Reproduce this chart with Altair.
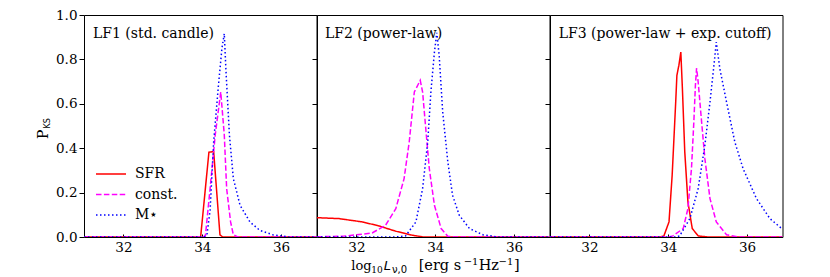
import altair as alt
import pandas as pd

X_MIN, X_MAX = 31.0, 36.9
SERIES = ["SFR", "const.", "M⋆"]
COLORS = ["#ff0000", "#ff00ff", "#0000ff"]
DASHES = [[1, 0], [5.5, 2.4], [1.5, 2.5]]
X_TICKS = [32, 34, 36]
Y_TICKS = [0.0, 0.2, 0.4, 0.6, 0.8, 1.0]
PANEL_TITLES = ["LF1 (std. candle)", "LF2 (power-law)", "LF3 (power-law + exp. cutoff)"]

# ---- panel 1 (LF1) ----
p1_sfr_x = [31.0, 33.9, 33.96, 34.17, 34.29, 34.45, 34.52, 36.9]
p1_sfr_y = [0, 0, 0, 0.382, 0.385, 0.01, 0, 0]
p1_const_x = [31.0, 34.0, 34.08, 34.2, 34.33, 34.47, 34.56, 34.62, 34.72, 34.79, 34.9, 36.9]
p1_const_y = [0, 0, 0.005, 0.218, 0.46, 0.653, 0.46, 0.218, 0.068, 0.01, 0, 0]
p1_mstar_x = [31.0, 34.05, 34.12, 34.2, 34.29, 34.41, 34.5, 34.56, 34.6, 34.69, 34.79,
              34.96, 35.21, 35.46, 35.79, 36.2, 36.9]
p1_mstar_y = [0, 0, 0.01, 0.12, 0.428, 0.68, 0.85, 0.916, 0.758, 0.46, 0.263,
              0.143, 0.068, 0.03, 0.01, 0, 0]

# ---- panel 2 (LF2) ----
p2_sfr_x = [31.0, 31.55, 32.15, 32.57, 33.0, 33.42, 33.7, 36.9]
p2_sfr_y = [0.087, 0.083, 0.068, 0.05, 0.026, 0.008, 0, 0]
p2_const_x = [31.0, 31.7, 32.4, 32.74, 33.0, 33.21, 33.34, 33.47, 33.62, 33.68, 33.76,
              33.85, 33.98, 34.15, 34.32, 34.5, 36.9]
p2_const_y = [0.001, 0.004, 0.018, 0.053, 0.128, 0.263, 0.428, 0.653, 0.706, 0.653, 0.488,
              0.308, 0.143, 0.038, 0.003, 0, 0]
p2_mstar_x = [31.0, 33.0, 33.25, 33.51, 33.68, 33.81, 33.89, 33.98, 34.04, 34.1, 34.19,
              34.32, 34.44, 34.61, 34.87, 35.21, 35.6, 36.9]
p2_mstar_y = [0, 0, 0.005, 0.068, 0.218, 0.428, 0.653, 0.833, 0.92, 0.818, 0.563,
              0.338, 0.188, 0.098, 0.038, 0.01, 0, 0]

# ---- panel 3 (LF3) ----
p3_sfr_x = [31.0, 33.8, 33.89, 34.02, 34.1, 34.19, 34.22, 34.27, 34.32, 34.36, 34.42,
            34.5, 34.61, 34.76, 35.0, 36.9]
p3_sfr_y = [0, 0, 0.005, 0.068, 0.278, 0.608, 0.728, 0.773, 0.833, 0.668, 0.383,
            0.158, 0.038, 0.005, 0, 0]
p3_const_x = [31.0, 34.0, 34.12, 34.38, 34.5, 34.59, 34.65, 34.69, 34.72, 34.76, 34.84,
              34.93, 35.06, 35.22, 35.48, 35.8, 36.9]
p3_const_y = [0, 0, 0.005, 0.038, 0.128, 0.308, 0.518, 0.683, 0.761, 0.698, 0.533,
              0.353, 0.173, 0.068, 0.01, 0, 0]
p3_mstar_x = [31.0, 34.2, 34.29, 34.55, 34.76, 34.93, 35.06, 35.16, 35.22, 35.31, 35.48,
              35.69, 35.9, 36.24, 36.58, 36.9]
p3_mstar_y = [0, 0, 0.005, 0.083, 0.218, 0.413, 0.608, 0.773, 0.878, 0.758, 0.608,
              0.428, 0.308, 0.173, 0.083, 0.035]

PANELS = [
    [(p1_sfr_x, p1_sfr_y), (p1_const_x, p1_const_y), (p1_mstar_x, p1_mstar_y)],
    [(p2_sfr_x, p2_sfr_y), (p2_const_x, p2_const_y), (p2_mstar_x, p2_mstar_y)],
    [(p3_sfr_x, p3_sfr_y), (p3_const_x, p3_const_y), (p3_mstar_x, p3_mstar_y)],
]

W, H = 232.5, 222
SERIF = "DejaVu Serif"
SANS = "DejaVu Sans"

xs = alt.Scale(domain=[X_MIN, X_MAX], nice=False, zero=False)
ys = alt.Scale(domain=[0, 1], nice=False)
one = pd.DataFrame({"a": [0]})


def panel_df(curves):
    rows = []
    for (xv, yv), name in zip(curves, SERIES):
        for i, (a, b) in enumerate(zip(xv, yv)):
            rows.append({"x": a, "y": b, "series": name, "i": i})
    return pd.DataFrame(rows)


def label(text, x, y, size=13.5, font=SERIF, style="normal", angle=0, baseline="alphabetic"):
    return alt.Chart(one).mark_text(
        text=text, font=font, fontSize=size, fontStyle=style, align="left",
        baseline=baseline, angle=angle, color="black"
    ).encode(x=alt.value(x), y=alt.value(y))


def make_panel(k):
    df = panel_df(PANELS[k])
    first = k == 0
    leg = alt.Legend(
        title=None, orient="none", legendX=20, legendY=152,
        symbolType="M-2.5,0H2.5", symbolSize=144, symbolStrokeWidth=1.5,
        labelFont=SERIF, labelFontSize=14, labelOffset=17, rowPadding=6.5,
        padding=0, labelColor="black",
    ) if first else None
    lines = alt.Chart(df).mark_line(strokeWidth=1.5, clip=True).encode(
        x=alt.X("x:Q", scale=xs, axis=alt.Axis(values=X_TICKS, title=None, ticks=False,
                                               tickSize=0, labelPadding=3, format="d",
                                               grid=False, domain=False)),
        y=alt.Y("y:Q", scale=ys, axis=alt.Axis(values=Y_TICKS, format=".1f", title=None,
                                               labels=first, tickSize=5, labelPadding=2,
                                               grid=False, domain=False)),
        color=alt.Color("series:N", scale=alt.Scale(domain=SERIES, range=COLORS), legend=leg),
        strokeDash=alt.StrokeDash("series:N", scale=alt.Scale(domain=SERIES, range=DASHES),
                                  legend=leg),
        order="i:Q",
    )
    inner = alt.Chart(df).mark_point(opacity=0).encode(
        x=alt.X("x:Q", scale=xs, axis=alt.Axis(orient="top", offset=-H, labels=False,
                                               values=X_TICKS, tickSize=3, title=None,
                                               grid=False, domain=False)),
    )
    layers = [lines, inner,
              label(PANEL_TITLES[k], [9, 8, 8.7][k], 18.7, size=14, baseline="middle")]
    if first:
        layers += [
            label("P", -35.8, 124, size=14, angle=270),
            label("KS", -34.3, 113.5, size=8, font=SANS, angle=270),
        ]
    if k == 1:
        base = 255.3
        layers += [
            label("log", 34.3, base, size=13),
            label("10", 54.3, base + 2.6, size=9),
            label("L", 66.7, base, size=13, font=SANS, style="italic"),
            label("ν,0", 75, base + 2.6, size=10, font=SANS),
            label("[erg s", 101.7, base, size=14.5),
            label("−1", 146.7, base - 5.5, size=10),
            label("Hz", 161.7, base, size=14.5),
            label("−1", 181.5, base - 5.5, size=10),
            label("]", 197, base, size=14.5),
        ]
    return alt.layer(*layers).resolve_axis(x="independent").properties(width=W, height=H)


chart = alt.hconcat(make_panel(0), make_panel(1), make_panel(2), spacing=0, bounds="flush")
chart = chart.resolve_scale(color="independent", strokeDash="independent").properties(
    padding={"left": 28, "top": -1, "right": 5, "bottom": 5},
    background="white",
).configure_view(stroke="black", strokeWidth=1).configure_axis(
    labelFont=SERIF, labelFontSize=13.5, labelColor="black", tickColor="black",
    tickWidth=1, domain=False, grid=False
)

chart.save("out.html", embed_options={"renderer": "svg", "actions": False})
